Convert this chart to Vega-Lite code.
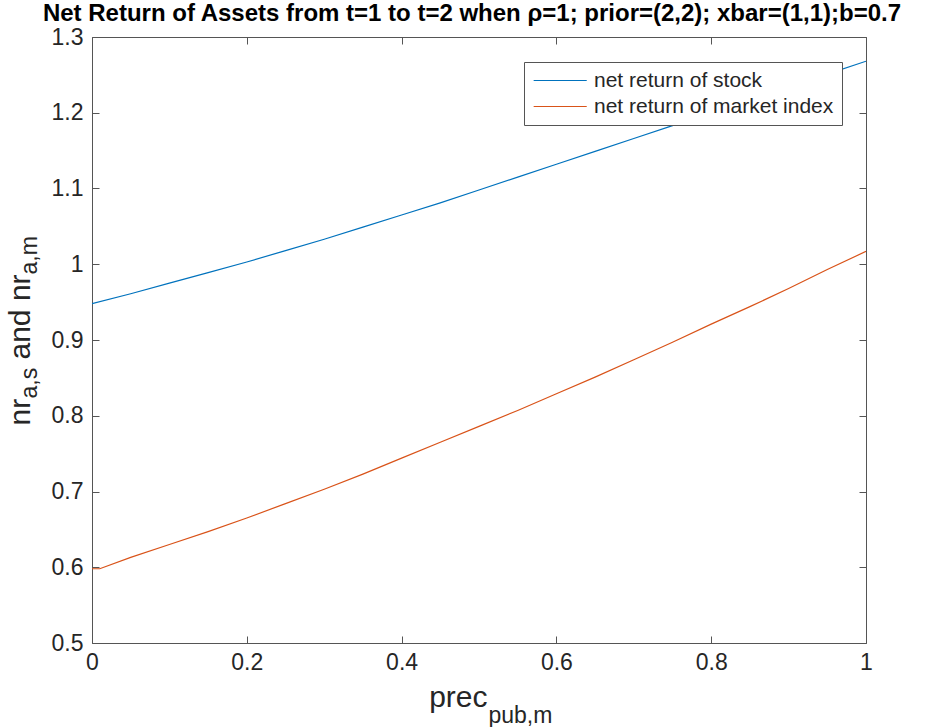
{
  "$schema": "https://vega.github.io/schema/vega-lite/v6.json",
  "width": 774,
  "height": 606,
  "autosize": "none",
  "padding": {"left": 92, "top": 37, "right": 78, "bottom": 84},
  "background": "white",
  "config": {
    "font": "Liberation Sans",
    "view": {"stroke": "#555555", "strokeWidth": 1},
    "axis": {"grid": false, "domain": false, "labelFlush": false}
  },
  "title": {
    "text": "Net Return of Assets from t=1 to t=2 when ρ=1; prior=(2,2); xbar=(1,1);b=0.7",
    "font": "Liberation Sans",
    "fontSize": 24,
    "fontWeight": "bold",
    "color": "#000000",
    "anchor": "middle",
    "baseline": "alphabetic",
    "offset": 2,
    "dy": 20.5,
    "dx": -7
  },
  "data": {
    "values": [
      {"x": 0, "value": 0.948, "series": "net return of stock"},
      {"x": 0.05, "value": 0.961, "series": "net return of stock"},
      {"x": 0.1, "value": 0.975, "series": "net return of stock"},
      {"x": 0.15, "value": 0.989, "series": "net return of stock"},
      {"x": 0.2, "value": 1.003, "series": "net return of stock"},
      {"x": 0.25, "value": 1.018, "series": "net return of stock"},
      {"x": 0.3, "value": 1.033, "series": "net return of stock"},
      {"x": 0.35, "value": 1.049, "series": "net return of stock"},
      {"x": 0.4, "value": 1.065, "series": "net return of stock"},
      {"x": 0.45, "value": 1.081, "series": "net return of stock"},
      {"x": 0.5, "value": 1.098, "series": "net return of stock"},
      {"x": 0.55, "value": 1.115, "series": "net return of stock"},
      {"x": 0.6, "value": 1.132, "series": "net return of stock"},
      {"x": 0.65, "value": 1.149, "series": "net return of stock"},
      {"x": 0.7, "value": 1.166, "series": "net return of stock"},
      {"x": 0.75, "value": 1.183, "series": "net return of stock"},
      {"x": 0.8, "value": 1.2, "series": "net return of stock"},
      {"x": 0.85, "value": 1.217, "series": "net return of stock"},
      {"x": 0.9, "value": 1.234, "series": "net return of stock"},
      {"x": 0.95, "value": 1.251, "series": "net return of stock"},
      {"x": 1, "value": 1.268, "series": "net return of stock"},
      {"x": 0, "value": 0.598, "series": "net return of market index"},
      {"x": 0.01, "value": 0.598, "series": "net return of market index"},
      {"x": 0.05, "value": 0.613, "series": "net return of market index"},
      {"x": 0.1, "value": 0.63, "series": "net return of market index"},
      {"x": 0.15, "value": 0.647, "series": "net return of market index"},
      {"x": 0.2, "value": 0.665, "series": "net return of market index"},
      {"x": 0.25, "value": 0.684, "series": "net return of market index"},
      {"x": 0.3, "value": 0.703, "series": "net return of market index"},
      {"x": 0.35, "value": 0.723, "series": "net return of market index"},
      {"x": 0.4, "value": 0.744, "series": "net return of market index"},
      {"x": 0.45, "value": 0.765, "series": "net return of market index"},
      {"x": 0.5, "value": 0.786, "series": "net return of market index"},
      {"x": 0.55, "value": 0.807, "series": "net return of market index"},
      {"x": 0.6, "value": 0.829, "series": "net return of market index"},
      {"x": 0.65, "value": 0.851, "series": "net return of market index"},
      {"x": 0.7, "value": 0.874, "series": "net return of market index"},
      {"x": 0.75, "value": 0.897, "series": "net return of market index"},
      {"x": 0.8, "value": 0.921, "series": "net return of market index"},
      {"x": 0.85, "value": 0.944, "series": "net return of market index"},
      {"x": 0.9, "value": 0.968, "series": "net return of market index"},
      {"x": 0.95, "value": 0.993, "series": "net return of market index"},
      {"x": 1, "value": 1.017, "series": "net return of market index"}
    ]
  },
  "resolve": {"axis": {"x": "independent", "y": "independent"}},
  "layer": [
    {
      "mark": {"type": "line", "strokeWidth": 1.2, "clip": true},
      "encoding": {
        "x": {
          "field": "x",
          "type": "quantitative",
          "scale": {"domain": [0, 1], "nice": false, "zero": false},
          "axis": {
            "orient": "bottom",
            "values": [0, 0.2, 0.4, 0.6, 0.8, 1],
            "format": "~g",
            "tickSize": -7,
            "tickColor": "#555555",
            "labelPadding": 15,
            "labelFontSize": 23,
            "labelColor": "#262626",
            "labelFont": "Liberation Sans",
            "title": "prec",
            "titleFont": "Liberation Sans",
            "titleFontSize": 30,
            "titleFontWeight": "normal",
            "titleColor": "#262626",
            "titleAlign": "right",
            "titleAnchor": null,
            "titleBaseline": "alphabetic",
            "titleX": 395,
            "titleY": 63
          }
        },
        "y": {
          "field": "value",
          "type": "quantitative",
          "scale": {"domain": [0.5, 1.3], "nice": false, "zero": false},
          "axis": {
            "orient": "left",
            "values": [0.5, 0.6, 0.7, 0.8, 0.9, 1, 1.1, 1.2, 1.3],
            "format": "~g",
            "tickSize": -7,
            "tickColor": "#555555",
            "labelPadding": 16,
            "labelFontSize": 23,
            "labelColor": "#262626",
            "labelFont": "Liberation Sans",
            "title": "nr",
            "titleFont": "Liberation Sans",
            "titleFontSize": 30,
            "titleFontWeight": "normal",
            "titleColor": "#262626",
            "titleAnchor": null,
            "titleAngle": -90,
            "titleAlign": "left",
            "titleBaseline": "alphabetic",
            "titleX": -63,
            "titleY": 388
          }
        },
        "color": {
          "field": "series",
          "type": "nominal",
          "scale": {
            "domain": ["net return of stock", "net return of market index"],
            "range": ["#0072BD", "#D95319"]
          },
          "legend": {
            "orient": "none",
            "legendX": 432,
            "legendY": 25,
            "title": null,
            "symbolType": "M-1,0H5",
            "symbolSize": 313,
            "symbolStrokeWidth": 1.2,
            "labelFontSize": 21,
            "labelFont": "Liberation Sans",
            "labelColor": "#262626",
            "labelLimit": 400,
            "labelOffset": 41,
            "rowPadding": 4,
            "padding": 8,
            "strokeColor": "#555555",
            "fillColor": "white"
          }
        }
      }
    },
    {
      "mark": {"type": "line", "opacity": 0},
      "encoding": {
        "x": {
          "field": "x",
          "type": "quantitative",
          "axis": {
            "orient": "top",
            "values": [0, 0.2, 0.4, 0.6, 0.8, 1],
            "labels": false,
            "tickSize": -7,
            "tickColor": "#555555",
            "title": null
          }
        },
        "y": {
          "field": "value",
          "type": "quantitative",
          "axis": {
            "orient": "right",
            "values": [0.5, 0.6, 0.7, 0.8, 0.9, 1, 1.1, 1.2, 1.3],
            "labels": false,
            "tickSize": -7,
            "tickColor": "#555555",
            "title": null
          }
        },
        "detail": {"field": "series", "type": "nominal"}
      }
    },
    {
      "mark": {"type": "line", "opacity": 0},
      "encoding": {
        "x": {
          "field": "x",
          "type": "quantitative",
          "axis": {
            "orient": "bottom",
            "labels": false,
            "ticks": false,
            "title": "pub,m",
            "titleFont": "Liberation Sans",
            "titleFontSize": 23,
            "titleFontWeight": "normal",
            "titleColor": "#262626",
            "titleAlign": "left",
            "titleAnchor": null,
            "titleBaseline": "alphabetic",
            "titleX": 396,
            "titleY": 79
          }
        },
        "y": {
          "field": "value",
          "type": "quantitative",
          "axis": {
            "orient": "left",
            "labels": false,
            "ticks": false,
            "title": "a,s",
            "titleFont": "Liberation Sans",
            "titleFontSize": 23,
            "titleFontWeight": "normal",
            "titleColor": "#262626",
            "titleAnchor": null,
            "titleAngle": -90,
            "titleAlign": "left",
            "titleBaseline": "alphabetic",
            "titleX": -56,
            "titleY": 361
          }
        },
        "detail": {"field": "series", "type": "nominal"}
      }
    },
    {
      "mark": {"type": "line", "opacity": 0},
      "encoding": {
        "x": {"field": "x", "type": "quantitative", "axis": null},
        "y": {
          "field": "value",
          "type": "quantitative",
          "axis": {
            "orient": "left",
            "labels": false,
            "ticks": false,
            "title": "and nr",
            "titleFont": "Liberation Sans",
            "titleFontSize": 30,
            "titleFontWeight": "normal",
            "titleColor": "#262626",
            "titleAnchor": null,
            "titleAngle": -90,
            "titleAlign": "left",
            "titleBaseline": "alphabetic",
            "titleX": -63,
            "titleY": 322
          }
        },
        "detail": {"field": "series", "type": "nominal"}
      }
    },
    {
      "mark": {"type": "line", "opacity": 0},
      "encoding": {
        "x": {"field": "x", "type": "quantitative", "axis": null},
        "y": {
          "field": "value",
          "type": "quantitative",
          "axis": {
            "orient": "left",
            "labels": false,
            "ticks": false,
            "title": "a,m",
            "titleFont": "Liberation Sans",
            "titleFontSize": 23,
            "titleFontWeight": "normal",
            "titleColor": "#262626",
            "titleAnchor": null,
            "titleAngle": -90,
            "titleAlign": "left",
            "titleBaseline": "alphabetic",
            "titleX": -56,
            "titleY": 237
          }
        },
        "detail": {"field": "series", "type": "nominal"}
      }
    }
  ]
}
